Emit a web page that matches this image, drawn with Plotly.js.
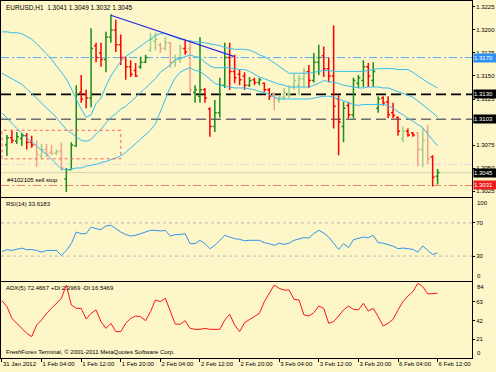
<!DOCTYPE html>
<html><head><meta charset="utf-8">
<script src="https://cdn.plot.ly/plotly-3.0.1.min.js"></script>
<style>html,body{margin:0;padding:0;background:#fcf6c8;}#chart{width:496px;height:372px;}</style>
</head><body><div id="chart"></div>
<script>
const times = [
"31 Jan 20:00","31 Jan 21:00","31 Jan 22:00","31 Jan 23:00",
"1 Feb 00:00","1 Feb 01:00","1 Feb 02:00","1 Feb 03:00","1 Feb 04:00","1 Feb 05:00","1 Feb 06:00","1 Feb 07:00",
"1 Feb 08:00","1 Feb 09:00","1 Feb 10:00","1 Feb 11:00","1 Feb 12:00","1 Feb 13:00","1 Feb 14:00","1 Feb 15:00",
"1 Feb 16:00","1 Feb 17:00","1 Feb 18:00","1 Feb 19:00","1 Feb 20:00","1 Feb 21:00","1 Feb 22:00","1 Feb 23:00",
"2 Feb 00:00","2 Feb 01:00","2 Feb 02:00","2 Feb 03:00","2 Feb 04:00","2 Feb 05:00","2 Feb 06:00","2 Feb 07:00",
"2 Feb 08:00","2 Feb 09:00","2 Feb 10:00","2 Feb 11:00","2 Feb 12:00","2 Feb 13:00","2 Feb 14:00","2 Feb 15:00",
"2 Feb 16:00","2 Feb 17:00","2 Feb 18:00","2 Feb 19:00","2 Feb 20:00","2 Feb 21:00","2 Feb 22:00","2 Feb 23:00",
"3 Feb 00:00","3 Feb 01:00","3 Feb 02:00","3 Feb 03:00","3 Feb 04:00","3 Feb 05:00","3 Feb 06:00","3 Feb 07:00",
"3 Feb 08:00","3 Feb 09:00","3 Feb 10:00","3 Feb 11:00","3 Feb 12:00","3 Feb 13:00","3 Feb 14:00","3 Feb 15:00",
"3 Feb 16:00","3 Feb 17:00","3 Feb 18:00","3 Feb 19:00","3 Feb 20:00","3 Feb 21:00","3 Feb 22:00","3 Feb 23:00",
"6 Feb 00:00","6 Feb 01:00","6 Feb 02:00","6 Feb 03:00","6 Feb 04:00","6 Feb 05:00","6 Feb 06:00","6 Feb 07:00",
"6 Feb 08:00","6 Feb 09:00","6 Feb 10:00","6 Feb 11:00","6 Feb 12:00"];

// bars start at 31 Jan 21:00
const barTimes = times.slice(1);
const open = [
1.3075,1.3083,1.3079,1.3082,1.3085,1.3078,1.3075,1.3063,1.3070,1.3067,
1.3066,1.3068,1.3038,1.3048,1.3074,1.3132,1.3130,1.3126,1.3183,1.3175,
1.3168,1.3192,1.3200,1.3184,1.3170,1.3160,1.3156,1.3160,1.3165,1.3178,
1.3188,1.3184,1.3180,1.3186,1.3165,1.3168,1.3180,1.3180,1.3132,1.3128,
1.3135,1.3114,1.3095,1.3110,1.3140,1.3170,1.3155,1.3152,1.3150,1.3140,
1.3146,1.3143,1.3142,1.3135,1.3130,1.3124,1.3127,1.3130,1.3138,1.3140,
1.3147,1.3155,1.3145,1.3165,1.3172,1.3158,1.3150,1.3125,1.3095,1.3118,
1.3108,1.3142,1.3145,1.3160,1.3145,1.3115,1.3126,1.3122,1.3110,1.3105,
1.3082,1.3090,1.3088,1.3088,1.3070,1.3090,1.3062,1.3041];
const high = [
1.3086,1.3091,1.3089,1.3088,1.3088,1.3085,1.3080,1.3076,1.3076,1.3075,
1.3070,1.3078,1.3050,1.3078,1.3140,1.3151,1.3135,1.3202,1.3186,1.3186,
1.3198,1.3217,1.3211,1.3195,1.3171,1.3167,1.3164,1.3171,1.3173,1.3197,
1.3197,1.3186,1.3192,1.3187,1.3173,1.3184,1.3190,1.3189,1.3140,1.3192,
1.3137,1.3116,1.3124,1.3148,1.3186,1.3186,1.3173,1.3157,1.3154,1.3149,
1.3148,1.3148,1.3143,1.3137,1.3132,1.3129,1.3137,1.3140,1.3153,1.3151,
1.3159,1.3162,1.3175,1.3184,1.3182,1.3170,1.3205,1.3129,1.3122,1.3122,
1.3148,1.3151,1.3167,1.3164,1.3165,1.3128,1.3128,1.3128,1.3121,1.3106,
1.3095,1.3093,1.3089,1.3089,1.3093,1.3097,1.3064,1.3049];
const low = [
1.3063,1.3077,1.3076,1.3074,1.3070,1.3072,1.3051,1.3060,1.3062,1.3064,
1.3064,1.3047,1.3024,1.3048,1.3073,1.3121,1.3115,1.3116,1.3165,1.3160,
1.3154,1.3186,1.3176,1.3162,1.3146,1.3149,1.3149,1.3158,1.3164,1.3176,
1.3178,1.3175,1.3178,1.3159,1.3160,1.3164,1.3173,1.3132,1.3121,1.3121,
1.3121,1.3084,1.3089,1.3105,1.3137,1.3135,1.3142,1.3140,1.3135,1.3138,
1.3140,1.3140,1.3133,1.3124,1.3113,1.3121,1.3124,1.3126,1.3135,1.3129,
1.3138,1.3137,1.3143,1.3151,1.3149,1.3143,1.3093,1.3064,1.3078,1.3104,
1.3104,1.3137,1.3138,1.3138,1.3138,1.3110,1.3118,1.3104,1.3104,1.3085,
1.3078,1.3084,1.3084,1.3052,1.3051,1.3054,1.3030,1.3032];
const close = [
1.3083,1.3080,1.3084,1.3085,1.3078,1.3075,1.3065,1.3070,1.3065,1.3066,
1.3068,1.3050,1.3048,1.3075,1.3130,1.3125,1.3126,1.3180,1.3170,1.3168,
1.3192,1.3200,1.3184,1.3170,1.3160,1.3152,1.3150,1.3165,1.3170,1.3190,
1.3190,1.3180,1.3186,1.3165,1.3168,1.3180,1.3176,1.3135,1.3135,1.3135,
1.3126,1.3095,1.3110,1.3140,1.3170,1.3155,1.3148,1.3146,1.3140,1.3145,
1.3143,1.3146,1.3135,1.3128,1.3126,1.3127,1.3132,1.3131,1.3145,1.3147,
1.3155,1.3145,1.3165,1.3170,1.3158,1.3150,1.3117,1.3100,1.3115,1.3108,
1.3145,1.3148,1.3160,1.3150,1.3155,1.3125,1.3121,1.3108,1.3107,1.3090,
1.3090,1.3086,1.3086,1.3070,1.3080,1.3060,1.3040,1.3045];
const fadedBars = [6,7,8,9,10,11,29,30,31,32,33,34,35,37,54,55,56,57,58,59,60,80,83,84,85];

const bbUpper = [
1.3198,1.3198,1.3197,1.3197,1.3196,1.3193,1.3190,1.3185,1.3180,1.3174,
1.3168,1.3161,1.3154,1.3147,1.3136,1.3125,1.3114,1.3105,1.3108,1.3120,
1.3126,1.3139,1.3150,1.3158,1.3166,1.3171,1.3175,1.3178,1.3182,1.3186,
1.3190,1.3194,1.3196,1.3196,1.3194,1.3192,1.3190,1.3189,1.3188,1.3187,
1.3187,1.3186,1.3185,1.3184,1.3183,1.3181,1.3180,1.3179,1.3179,1.3179,
1.3178,1.3176,1.3173,1.3171,1.3168,1.3164,1.3161,1.3157,1.3153,1.3153,
1.3153,1.3153,1.3153,1.3154,1.3155,1.3156,1.3156,1.3155,1.3155,1.3155,
1.3155,1.3155,1.3155,1.3155,1.3156,1.3157,1.3158,1.3158,1.3158,1.3158,
1.3157,1.3157,1.3157,1.3154,1.3150,1.3146,1.3143,1.3140,1.3137];
const bbMiddle = [
1.3153,1.3150,1.3147,1.3144,1.3141,1.3136,1.3131,1.3126,1.3121,1.3116,
1.3111,1.3105,1.3098,1.3092,1.3088,1.3084,1.3080,1.3079,1.3081,1.3087,
1.3092,1.3099,1.3105,1.3109,1.3114,1.3117,1.3122,1.3127,1.3132,1.3137,
1.3142,1.3147,1.3154,1.3158,1.3162,1.3168,1.3169,1.3171,1.3173,1.3171,
1.3170,1.3165,1.3161,1.3159,1.3159,1.3159,1.3159,1.3158,1.3157,1.3157,
1.3155,1.3152,1.3149,1.3147,1.3145,1.3143,1.3141,1.3140,1.3138,1.3138,
1.3138,1.3138,1.3138,1.3140,1.3142,1.3145,1.3144,1.3143,1.3142,1.3140,
1.3139,1.3138,1.3137,1.3137,1.3138,1.3138,1.3138,1.3137,1.3137,1.3135,
1.3133,1.3131,1.3129,1.3127,1.3123,1.3119,1.3114,1.3110,1.3105];
const bbLower = [
1.3110,1.3104,1.3098,1.3093,1.3088,1.3083,1.3078,1.3074,1.3069,1.3065,
1.3060,1.3055,1.3049,1.3048,1.3049,1.3050,1.3050,1.3052,1.3053,1.3054,
1.3056,1.3057,1.3059,1.3061,1.3063,1.3067,1.3072,1.3076,1.3081,1.3086,
1.3091,1.3098,1.3111,1.3125,1.3138,1.3148,1.3154,1.3157,1.3159,1.3156,
1.3155,1.3151,1.3147,1.3142,1.3140,1.3139,1.3138,1.3137,1.3137,1.3137,
1.3136,1.3135,1.3133,1.3132,1.3130,1.3127,1.3125,1.3125,1.3125,1.3125,
1.3125,1.3125,1.3125,1.3126,1.3127,1.3128,1.3128,1.3127,1.3125,1.3123,
1.3121,1.3119,1.3118,1.3119,1.3119,1.3119,1.3119,1.3119,1.3118,1.3115,
1.3111,1.3108,1.3104,1.3101,1.3097,1.3094,1.3087,1.3080,1.3074];

const rsi = [
35.6,37.7,36.8,38.0,39.6,37.7,37.9,36.8,34.8,36.8,
36.8,36.8,30.8,36.8,45.0,59.0,57.0,57.0,65.0,63.0,
62.0,66.3,67.2,63.0,59.0,55.9,54.2,55.0,57.0,58.3,
61.0,61.0,60.2,61.0,54.2,55.9,55.9,57.0,45.0,45.0,
49.0,45.0,38.9,42.9,49.0,55.0,53.0,51.0,50.2,48.5,
49.0,49.0,49.0,46.1,45.0,42.9,45.6,44.1,45.6,49.0,
50.2,52.2,51.7,57.1,61.1,57.8,52.9,45.0,38.1,45.0,
40.1,49.8,51.0,52.9,52.2,55.0,46.1,45.6,43.7,42.1,
38.9,39.7,38.9,38.1,34.7,42.1,36.8,32.0,33.6];
const adx = [
64.2,57.5,44.4,38.8,33.2,27.6,23.9,37.0,42.6,50.0,
55.6,61.2,66.8,81.7,59.4,55.6,55.6,43.7,50.0,53.8,
40.7,33.2,38.8,29.5,29.5,38.8,44.4,47.0,46.3,41.8,
51.9,65.0,63.1,66.8,51.9,38.1,37.7,41.8,33.2,32.1,
32.1,33.2,32.1,32.1,32.1,42.6,48.9,37.0,29.5,39.5,
43.3,46.3,50.0,63.1,72.4,81.7,78.0,76.1,76.1,65.7,
65.0,48.2,47.0,50.8,58.2,55.6,38.8,40.7,47.0,53.8,
58.2,54.5,53.8,61.2,52.6,55.6,46.3,35.8,38.8,43.3,
53.8,63.1,69.4,74.3,83.6,79.9,71.7,72.4,72.5];

const trendTimes = ["1 Feb 18:00","2 Feb 19:00"];
const trendPrices = [1.3216,1.3171];
const zoneTimes = ["31 Jan 20:00","1 Feb 20:00"];
const zonePrices = [1.3060,1.3091];

const levelPrices = [1.3170,1.3130,1.3103,1.3031];
const levelLabels = ["1.3170","1.3130","1.3103","1.3031"];
const bidPrice = 1.3045, askPrice = 1.3054;
const orderLabel = "#4102105 sell stop";

const priceTicks = [1.3025,1.3050,1.3075,1.3100,1.3125,1.3150,1.3175,1.3200,1.3225];
const priceTickText = ["1.3025","1.3050","1.3075","","1.3125","1.3150","1.3175","1.3200","1.3225"];
const tickTimes = ["31 Jan 20:00","1 Feb 04:00","1 Feb 12:00","1 Feb 20:00","2 Feb 04:00","2 Feb 12:00","2 Feb 20:00","3 Feb 04:00","3 Feb 12:00","3 Feb 20:00","6 Feb 04:00","6 Feb 12:00"];
const tickText = ["31 Jan 2012","1 Feb 04:00","1 Feb 12:00","1 Feb 20:00","2 Feb 04:00","2 Feb 12:00","2 Feb 20:00","3 Feb 04:00","3 Feb 12:00","3 Feb 20:00","6 Feb 04:00","6 Feb 12:00"];

const BG = '#fcf6c8';
const FONT = 'Liberation Sans, Arial, sans-serif';

const normalIdx = [], fadedIdx = [];
for (let i = 0; i < open.length; i++) (fadedBars.includes(i) ? fadedIdx : normalIdx).push(i);
function ohlc(idx, up, dn) {
  return {type:'ohlc', xaxis:'x', yaxis:'y', hoverinfo:'skip', showlegend:false,
    x: idx.map(i => barTimes[i]), open: idx.map(i => open[i]), high: idx.map(i => high[i]),
    low: idx.map(i => low[i]), close: idx.map(i => close[i]), tickwidth: 0.4,
    increasing:{line:{color:up, width:1.5}}, decreasing:{line:{color:dn, width:1.5}}};
}
function line(x, y, color, w, ax, ay, dash) {
  return {type:'scatter', mode:'lines', x, y, xaxis:ax, yaxis:ay, hoverinfo:'skip', showlegend:false,
    line:{color, width:w, dash: dash || 'solid'}};
}

const data = [
  line(times, bbUpper, '#37bdf0', 1, 'x', 'y'),
  line(times, bbMiddle, '#37bdf0', 1, 'x', 'y'),
  line(times, bbLower, '#37bdf0', 1, 'x', 'y'),
  line([zoneTimes[1], zoneTimes[0], zoneTimes[0], zoneTimes[1], zoneTimes[1]],
       [zonePrices[1], zonePrices[1], zonePrices[0], zonePrices[0], zonePrices[1]], '#ff5a5a', 1, 'x', 'y', 'dot'),
  ohlc(normalIdx, '#1a8c1a', '#ff0000'),
  ohlc(fadedIdx, '#9dcf85', '#f5a08c'),
  line(trendTimes, trendPrices, '#2a2ae6', 1.2, 'x', 'y'),
  line(times, rsi, '#2f95ee', 1, 'x2', 'y2'),
  line(times, adx, '#ff1414', 1, 'x3', 'y3')
];

const axBase = {type:'category', categoryorder:'array', categoryarray:times, range:[-0.2, 94.95],
  showline:true, mirror:true, linecolor:'#000', linewidth:1, showgrid:false, zeroline:false, fixedrange:true};
const yBase = {side:'right', showline:true, mirror:true, linecolor:'#000', linewidth:1, showgrid:false,
  zeroline:false, ticks:'outside', ticklen:2, tickcolor:'#000', tickfont:{size:6, family:FONT, color:'#000'}, fixedrange:true};

const levelColors = ['#57aef5','#000000','#6e6e6e','#f5866a'];
const levelDash = ['8px,3px,2px,3px','10px,5px','10px,5px','8px,3px,2px,3px'];
const levelWidth = [1, 1.6, 1.5, 1];
const levelBg = ['#2f8ff0','#000000','#000000','#ee1c1c'];

const shapes = [];
levelPrices.forEach((p, k) => shapes.push({type:'line', xref:'paper', x0:0, x1:1, yref:'y', y0:p, y1:p, layer:'below',
  line:{color:levelColors[k], width:levelWidth[k], dash:levelDash[k]}}));
shapes.push({type:'line', xref:'paper', x0:0, x1:1, yref:'y', y0:bidPrice, y1:bidPrice, layer:'below', line:{color:'#d6d2b8', width:1}});
shapes.push({type:'line', xref:'paper', x0:0, x1:1, yref:'y', y0:askPrice, y1:askPrice, layer:'below', line:{color:'#e6d6e6', width:1, dash:'8px,3px,2px,3px'}});
[30, 70].forEach(v => shapes.push({type:'line', xref:'paper', x0:0, x1:1, yref:'y2', y0:v, y1:v, layer:'below', line:{color:'#b8b8b8', width:1, dash:'3px,3px'}}));

const annotations = [];
function txt(o) { annotations.push(Object.assign({showarrow:false, font:{size:6, family:FONT, color:'#000'}}, o)); }
txt({xref:'paper', yref:'paper', x:0, y:1, xanchor:'left', yanchor:'top', xshift:3, yshift:-1,
  text:'EURUSD,H1  ' + [open[87], high[87], low[87], close[87]].map(v => v.toFixed(4)).join(' '), font:{size:6.5, family:FONT, color:'#000'}});
txt({xref:'paper', yref:'y', x:0, y:levelPrices[3], xanchor:'left', yanchor:'bottom', xshift:4, yshift:0, text:orderLabel});
txt({xref:'paper', yref:'y2 domain', x:0, y:1, xanchor:'left', yanchor:'top', xshift:3, yshift:-1, text:'RSI(14) 33.6183'});
txt({xref:'paper', yref:'y3 domain', x:0, y:1, xanchor:'left', yanchor:'top', xshift:3, yshift:-1, text:'ADX(5) 72.4667 +DI:2.3969 -DI:16.5469'});
txt({xref:'paper', yref:'y3 domain', x:0, y:0, xanchor:'left', yanchor:'bottom', xshift:3, yshift:1, text:'FreshForex Terminal, © 2001-2011 MetaQuotes Software Corp.'});
txt({xref:'paper', yref:'y2 domain', x:1, y:1, xanchor:'left', yanchor:'top', xshift:3, text:'100'});
txt({xref:'paper', yref:'y2 domain', x:1, y:0, xanchor:'left', yanchor:'bottom', xshift:3, text:'0'});
txt({xref:'paper', yref:'y3 domain', x:1, y:1, xanchor:'left', yanchor:'top', xshift:3, text:'84'});
txt({xref:'paper', yref:'y3 domain', x:1, y:0, xanchor:'left', yanchor:'bottom', xshift:3, text:'0'});
function box(p, label, bg) {
  annotations.push({xref:'paper', yref:'y', x:1, y:p, xanchor:'left', yanchor:'middle', xshift:1, showarrow:false,
    text:label, bgcolor:bg, borderpad:0, width:23, height:8, align:'left',
    font:{size:6, family:FONT, color:'#ffffff'}});
}
levelPrices.forEach((p, k) => box(p, levelLabels[k], levelBg[k]));
box(bidPrice, bidPrice.toFixed(4), '#000000');

const layout = {
  width:496, height:372, margin:{l:1, r:24, t:1, b:14, pad:0},
  paper_bgcolor:BG, plot_bgcolor:BG, showlegend:false,
  font:{family:FONT, size:6, color:'#000'},
  xaxis: Object.assign({}, axBase, {anchor:'y', showticklabels:false, ticks:'', rangeslider:{visible:false}}),
  xaxis2: Object.assign({}, axBase, {anchor:'y2', matches:'x', showticklabels:false, ticks:''}),
  xaxis3: Object.assign({}, axBase, {anchor:'y3', matches:'x', tickmode:'array', tickvals:tickTimes, ticktext:tickText,
    ticks:'outside', ticklen:3, tickcolor:'#000', ticklabelposition:'outside right', tickangle:0,
    tickfont:{size:6, family:FONT, color:'#000'}}),
  yaxis: Object.assign({}, yBase, {domain:[0.451, 1], anchor:'x', range:[1.30185, 1.32315], tickmode:'array', tickvals:priceTicks, ticktext:priceTickText}),
  yaxis2: Object.assign({}, yBase, {domain:[0.2157, 0.4482], anchor:'x2', range:[0, 100], tickmode:'array', tickvals:[30, 70]}),
  yaxis3: Object.assign({}, yBase, {domain:[0, 0.2129], anchor:'x3', range:[0, 85.1], tickmode:'array', tickvals:[21, 42, 63]}),
  shapes, annotations
};
Plotly.newPlot('chart', data, layout, {staticPlot:true, displayModeBar:false});
</script></body></html>
